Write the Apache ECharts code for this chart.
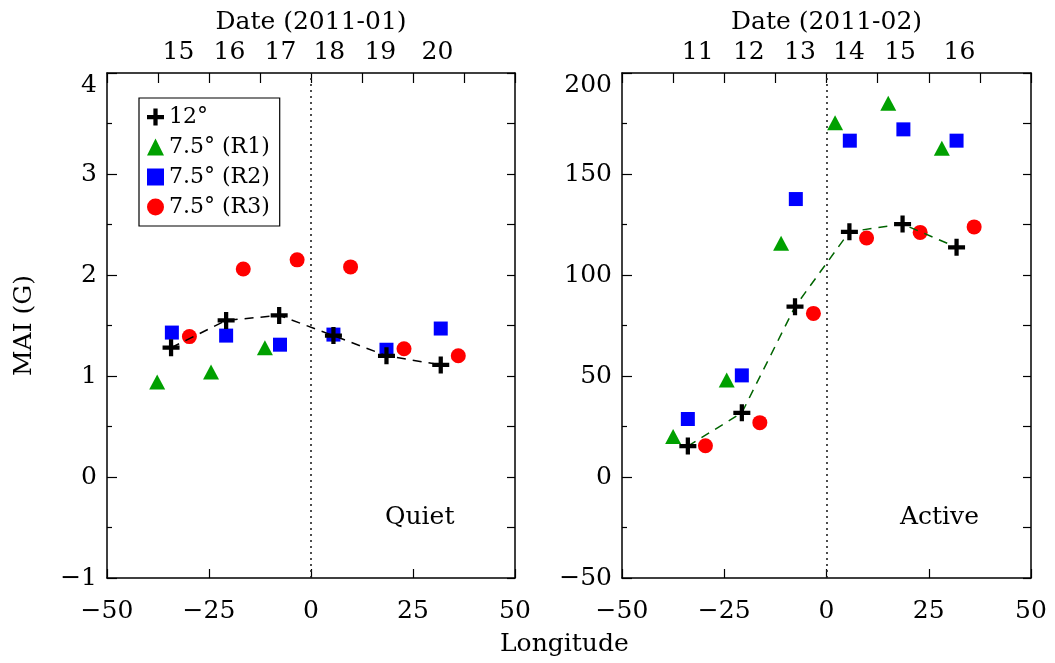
<!DOCTYPE html>
<html>
<head>
<meta charset="utf-8">
<script src="https://cdn.jsdelivr.net/npm/echarts@6/dist/echarts.min.js"></script>
<style>html,body{margin:0;padding:0;background:#fff;}#c{width:1055px;height:663px;}</style>
</head>
<body>
<div id="c"></div>
<script>
// ---- Quiet region (2011-01) ----
const lonQ12 = [-34.3, -20.8, -7.8, 5.5, 18.5, 31.8];
const maiQ12 = [1.28, 1.55, 1.60, 1.40, 1.20, 1.11];
const lonQR1 = [-37.7, -24.5, -11.3];
const maiQR1 = [0.94, 1.04, 1.28];
const lonQR2 = [-34.1, -20.8, -7.6, 5.5, 18.5, 31.8];
const maiQR2 = [1.43, 1.40, 1.31, 1.41, 1.26, 1.47];
const lonQR3 = [-29.8, -16.6, -3.4, 9.7, 22.8, 36.1];
const maiQR3 = [1.39, 2.06, 2.15, 2.08, 1.27, 1.20];
// ---- Active region (2011-02) ----
const lonA12 = [-33.9, -20.7, -7.7, 5.6, 18.6, 31.8];
const maiA12 = [15.3, 31.8, 84.3, 121.4, 125.2, 113.7];
const lonAR1 = [-37.5, -24.4, -11.1, 2.1, 15.1, 28.2];
const maiAR1 = [20.0, 48, 115.7, 175.4, 185, 162.7];
const lonAR2 = [-33.9, -20.7, -7.5, 5.7, 18.8, 31.8];
const maiAR2 = [28.7, 50.3, 137.6, 166.5, 172.1, 166.5];
const lonAR3 = [-29.6, -16.3, -3.2, 9.8, 22.9, 36.1];
const maiAR3 = [15.5, 26.9, 81, 118.3, 121.1, 123.8];
// ---- top date tick labels ----
const dayJan = ['15', '16', '17', '18', '19', '20'];
const dayJanPos = [-32.5, -20, -7.5, 4.5, 17, 31];
const dayFeb = ['11', '12', '13', '14', '15', '16'];
const dayFebPos = [-31.5, -19, -6.5, 5.5, 18, 32.5];

const seriesNames = ['12°', '7.5° (R1)', '7.5° (R2)', '7.5° (R3)'];

const FONT = 'DejaVu Serif';
const FS = 25;
const crossPath = 'path://M3,0H5V3H8V5H5V8H3V5H0V3H3Z';
const zip = (a, b) => a.map((v, i) => [v, b[i]]);
const numFmt = v => String(v).replace('-', '\u2212');

function dayFormatter(names, pos) {
  return function (v) {
    for (let i = 0; i < pos.length; i++) {
      if (Math.abs(v - pos[i]) < 0.01) return names[i];
    }
    return '';
  };
}

function xAxesFor(gridIndex, names, pos, title) {
  const line = { show: true, onZero: false, lineStyle: { color: '#000', width: 1.5 } };
  return [
    { type: 'value', gridIndex, position: 'bottom', min: -50, max: 50, interval: 25,
      axisLine: line, axisTick: { show: true, inside: true, length: 9, lineStyle: { color: '#000', width: 1.2 } },
      axisLabel: { show: true, margin: 21, fontFamily: FONT, fontSize: FS, color: '#000', formatter: numFmt },
      splitLine: { show: false } },
    { type: 'value', gridIndex, position: 'top', min: -50, max: 50, interval: 12.5,
      axisLine: line, axisTick: { show: true, inside: true, length: 10, lineStyle: { color: '#000', width: 1.2 } },
      axisLabel: { show: false }, splitLine: { show: false } },
    { type: 'value', gridIndex, position: 'top', min: -50, max: 50, interval: 0.5,
      axisLine: { show: false, onZero: false }, axisTick: { show: false },
      axisLabel: { show: true, margin: 8, fontFamily: FONT, fontSize: FS, color: '#000',
                   formatter: dayFormatter(names, pos) },
      splitLine: { show: false },
      name: title, nameLocation: 'middle', nameGap: 31,
      nameTextStyle: { fontFamily: FONT, fontSize: FS, color: '#000' } }
  ];
}

function yAxesFor(gridIndex, min, max, major, minor, name) {
  const line = { show: true, onZero: false, lineStyle: { color: '#000', width: 1.5 } };
  const left = { type: 'value', gridIndex, position: 'left', min, max, interval: major,
      axisLine: line,
      axisTick: { show: true, inside: true, length: 10, lineStyle: { color: '#000', width: 1.2 } },
      minorTick: { show: true, splitNumber: 2, length: 5, lineStyle: { color: '#000', width: 1.2 } },
      axisLabel: { show: true, margin: 10, fontFamily: FONT, fontSize: FS, color: '#000',
                   verticalAlignMaxLabel: 'top', formatter: numFmt },
      splitLine: { show: false }, minorSplitLine: { show: false } };
  if (name) {
    left.name = name; left.nameLocation = 'middle'; left.nameGap = 70;
    left.nameTextStyle = { fontFamily: FONT, fontSize: FS, color: '#000' };
  }
  const right = { type: 'value', gridIndex, position: 'right', min, max, interval: minor,
      axisLine: line,
      axisTick: { show: true, inside: true, length: 8, lineStyle: { color: '#000', width: 1.2 } },
      axisLabel: { show: false }, splitLine: { show: false } };
  return [left, right];
}

function panelSeries(xi, yi, l12, m12, l1, m1, l2, m2, l3, m3, lineColor) {
  return [
    { name: seriesNames[1], type: 'scatter', xAxisIndex: xi, yAxisIndex: yi, data: zip(l1, m1),
      symbol: 'triangle', symbolSize: [16, 15], itemStyle: { color: '#00a000', opacity: 1 },
      markLine: { silent: true, symbol: ['none', 'none'], label: { show: false },
        lineStyle: { type: [2, 4], color: '#222', width: 1.6 }, data: [{ xAxis: 0 }] } },
    { name: seriesNames[2], type: 'scatter', xAxisIndex: xi, yAxisIndex: yi, data: zip(l2, m2),
      symbol: 'rect', symbolSize: 14, itemStyle: { color: '#0000ff', opacity: 1 } },
    { name: seriesNames[3], type: 'scatter', xAxisIndex: xi, yAxisIndex: yi, data: zip(l3, m3),
      symbol: 'circle', symbolSize: 15, itemStyle: { color: '#ff0000', opacity: 1 } },
    { name: seriesNames[0], type: 'line', xAxisIndex: xi, yAxisIndex: yi, data: zip(l12, m12),
      symbol: crossPath, symbolSize: 17, showAllSymbol: true,
      itemStyle: { color: '#000', opacity: 1 },
      lineStyle: { color: lineColor, width: 1.5, type: [9, 7] } }
  ];
}

const chart = echarts.init(document.getElementById('c'), null, { renderer: 'canvas' });
chart.setOption({
  animation: false,
  backgroundColor: '#fff',
  grid: [
    { left: 107, top: 73, width: 408, height: 505 },
    { left: 622, top: 73, width: 409, height: 505 }
  ],
  xAxis: [].concat(
    xAxesFor(0, dayJan, dayJanPos, 'Date (2011-01)'),
    xAxesFor(1, dayFeb, dayFebPos, 'Date (2011-02)')
  ),
  yAxis: [].concat(
    yAxesFor(0, -1, 4, 1, 0.5, 'MAI (G)'),
    yAxesFor(1, -50, 200, 50, 25, null)
  ),
  legend: {
    orient: 'vertical', left: 139, top: 98,
    padding: [8, 10, 8, 8], itemGap: 8, itemWidth: 17, itemHeight: 17,
    borderColor: '#000', borderWidth: 1.2, borderRadius: 0,
    textStyle: { fontFamily: FONT, fontSize: 22, color: '#000' },
    selectedMode: false,
    data: [
      { name: seriesNames[0], icon: crossPath, itemStyle: { color: '#000' } },
      { name: seriesNames[1], icon: 'triangle', itemStyle: { color: '#00a000', opacity: 1 } },
      { name: seriesNames[2], icon: 'rect', itemStyle: { color: '#0000ff', opacity: 1 } },
      { name: seriesNames[3], icon: 'circle', itemStyle: { color: '#ff0000', opacity: 1 } }
    ]
  },
  graphic: [
    { type: 'text', left: 385, top: 505, style: { text: 'Quiet', font: '25px "DejaVu Serif"', fill: '#000' } },
    { type: 'text', left: 900, top: 505, style: { text: 'Active', font: '25px "DejaVu Serif"', fill: '#000' } },
    { type: 'text', left: 500, top: 632, style: { text: 'Longitude', font: '25px "DejaVu Serif"', fill: '#000' } }
  ],
  series: [].concat(
    panelSeries(0, 0, lonQ12, maiQ12, lonQR1, maiQR1, lonQR2, maiQR2, lonQR3, maiQR3, '#000'),
    panelSeries(3, 2, lonA12, maiA12, lonAR1, maiAR1, lonAR2, maiAR2, lonAR3, maiAR3, '#006400')
  )
});
</script>
</body>
</html>
